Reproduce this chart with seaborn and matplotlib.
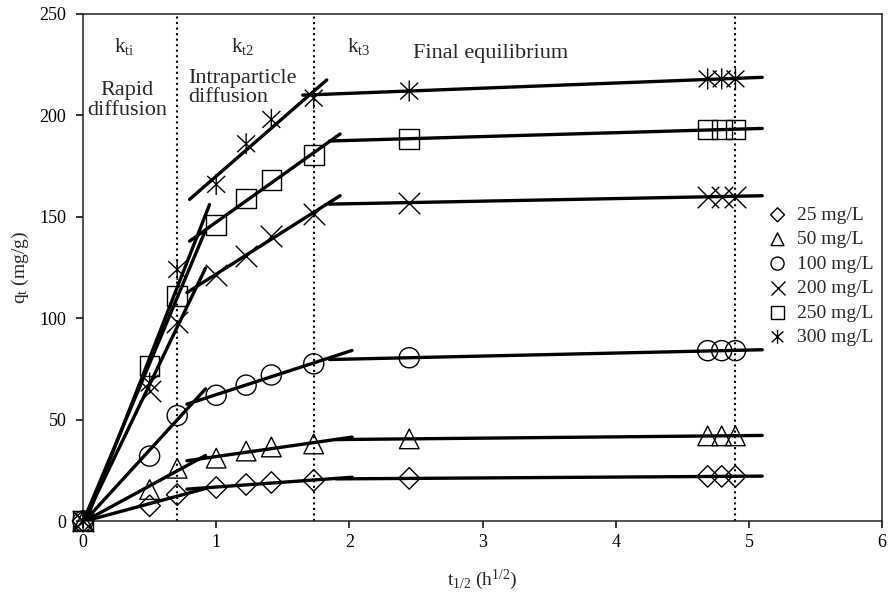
import numpy as np
import pandas as pd
import matplotlib
matplotlib.use('Agg')
import matplotlib.pyplot as plt
from matplotlib.path import Path
import seaborn as sns

# contact time (h) and uptake q_t (mg/g) for each initial concentration
t_hours = [0, 0.25, 0.5, 1, 1.5, 2, 3, 6, 22, 23, 24]
concs   = ['25 mg/L', '50 mg/L', '100 mg/L', '200 mg/L', '250 mg/L', '300 mg/L']
q_25    = [0, 7.5, 13, 16.5, 18, 19, 20, 21, 22, 22, 22]
q_50    = [0, 15.5, 26, 31, 34.5, 36.5, 38, 40.5, 42, 42, 42]
q_100   = [0, 32, 52, 62, 67, 72, 77.5, 80.5, 84, 84, 84]
q_200   = [0, 64, 98, 121.5, 130.5, 140.5, 151.5, 157, 160, 160, 160]
q_250   = [0, 76.5, 111, 146, 159, 168, 180.5, 188.5, 193, 193, 193]
q_300   = [0, 68, 124, 166, 186, 198, 208.5, 212, 218, 218, 218]

stage_bounds = [1 / np.sqrt(2), np.sqrt(3), np.sqrt(24)]   # dotted lines

df = pd.DataFrame({'t': np.tile(t_hours, len(concs)),
                   'conc': np.repeat(concs, len(t_hours)),
                   'qt': q_25 + q_50 + q_100 + q_200 + q_250 + q_300})
df['x'] = np.sqrt(df['t'])

# fit windows (x range) for the three diffusion stages
FIT_WIN = [(0.0, 0.71), (0.99, 1.74), (2.4, 5.0)]
# drawn span of each fitted line, per concentration
SPAN = {'25 mg/L':  [(0, 0.92), (0.78, 2.02), (1.9, 5.1)],
        '50 mg/L':  [(0, 0.92), (0.78, 2.02), (1.9, 5.1)],
        '100 mg/L': [(0, 0.92), (0.78, 2.02), (1.85, 5.1)],
        '200 mg/L': [(0, 0.92), (0.78, 1.93), (1.85, 5.1)],
        '250 mg/L': [(0, 0.92), (0.8, 1.93), (1.85, 5.1)],
        '300 mg/L': [(0, 0.95), (0.8, 1.83), (1.65, 5.1)]}

star = Path([(0, -1), (0, 1), (-0.85, -0.8), (0.85, 0.8), (-0.85, 0.8), (0.85, -0.8)],
            [Path.MOVETO, Path.LINETO] * 3)
MARKERS = {'25 mg/L': ('D', 120), '50 mg/L': ('^', 200), '100 mg/L': ('o', 210),
           '200 mg/L': ('x', 240), '250 mg/L': ('s', 200), '300 mg/L': (star, 230)}

sns.set_style('ticks')
plt.rcParams['font.family'] = ['Liberation Serif', 'DejaVu Serif']
plt.rcParams['mathtext.fontset'] = 'custom'
plt.rcParams['mathtext.rm'] = 'Liberation Serif'
plt.rcParams['mathtext.it'] = 'Liberation Serif:italic'

fig = plt.figure(figsize=(8.89, 5.93), dpi=100)
ax = fig.add_axes([0.0934, 0.1214, 0.8988, 0.855])

for c in concs:
    sub = df[df['conc'] == c]
    m, s = MARKERS[c]
    if m == 'x':
        sns.scatterplot(data=sub, x='x', y='qt', marker=m, s=s, color='black',
                        linewidth=1, label=c, clip_on=False, zorder=3, ax=ax)
    else:
        sns.scatterplot(data=sub, x='x', y='qt', marker=m, s=s, facecolor='none',
                        edgecolor='black', linewidth=1, label=c, clip_on=False,
                        zorder=3, ax=ax)
    for (f0, f1), (d0, d1) in zip(FIT_WIN, SPAN[c]):
        part = sub[(sub['x'] >= f0) & (sub['x'] <= f1)]
        k, b = np.polyfit(part['x'], part['qt'], 1)
        xx = np.array([d0, d1])
        sns.lineplot(x=xx, y=k * xx + b, color='black', linewidth=2.4, ax=ax,
                     legend=False, zorder=4)

for xb in stage_bounds:
    ax.axvline(xb, color='black', ls=':', lw=1.5, zorder=1)

ax.set_xlim(0, 6)
ax.set_ylim(0, 250)
ax.set_xticks(range(0, 7))
ax.set_yticks(range(0, 251, 50))
ax.tick_params(direction='out', length=5, width=1.1, labelsize=13, colors='black')
ax.tick_params(axis='x', pad=4)
ax.tick_params(axis='y', pad=7)
for sp in ax.spines.values():
    sp.set_visible(True)
    sp.set_linewidth(1.1)
    sp.set_color('#222222')

ax.set_xlabel(r'$\mathregular{t_{1/2}\ (h^{1/2})}$', fontsize=14, labelpad=12)
ax.set_ylabel(r'$\mathregular{q_t\ (mg/g)}$', fontsize=14, labelpad=6)

ax.text(0.31, 234, r'$\mathregular{k_{ti}}$', fontsize=15, ha='center', va='center')
ax.text(1.2, 234, r'$\mathregular{k_{t2}}$', fontsize=15, ha='center', va='center')
ax.text(2.07, 234, r'$\mathregular{k_{t3}}$', fontsize=15, ha='center', va='center')
ax.text(0.33, 207.5, 'Rapid\ndiffusion', fontsize=16, ha='center', va='center',
        linespacing=1.05)
ax.text(0.79, 213.5, 'Intraparticle\ndiffusion', fontsize=16, ha='left', va='center',
        linespacing=1.05)
ax.text(2.48, 230.5, 'Final equilibrium', fontsize=16, ha='left', va='center')

ax.legend(loc='center left', bbox_to_anchor=(0.857, 0.483), frameon=False,
          fontsize=14, markerscale=0.65, handlelength=1.0, handletextpad=0.5,
          labelspacing=0.35, borderaxespad=0, borderpad=0)

fig.savefig('out.png', dpi=100)
